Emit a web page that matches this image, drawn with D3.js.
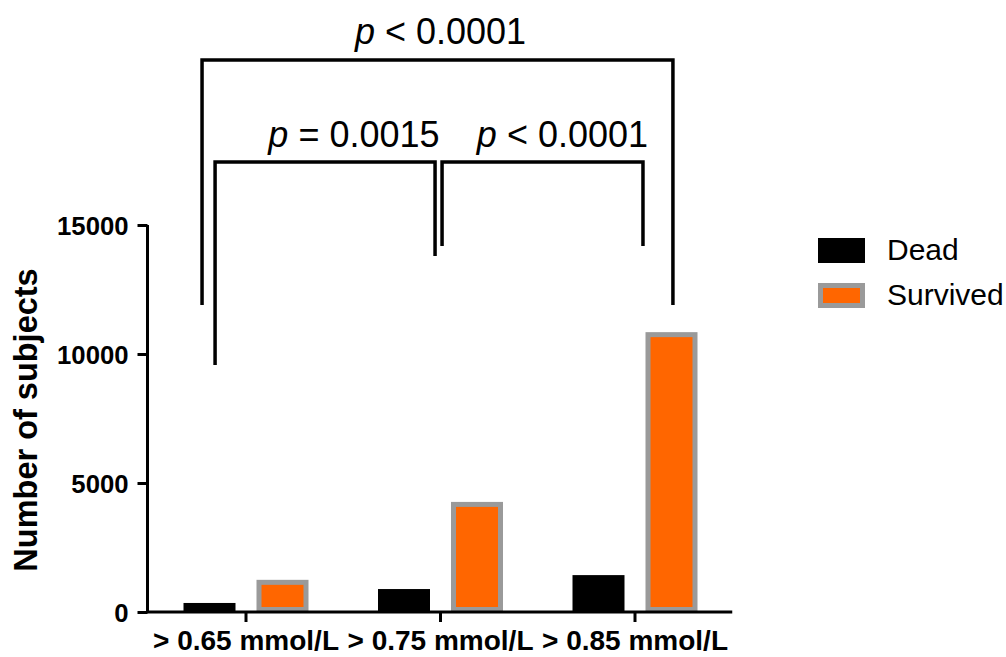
<!DOCTYPE html>
<html>
<head>
<meta charset="utf-8">
<script src="https://cdn.jsdelivr.net/npm/d3@7"></script>
<style>
  html, body { margin: 0; padding: 0; background: #fff; }
  svg { display: block; font-family: Arial, "Liberation Sans", Helvetica, sans-serif; }
</style>
</head>
<body>
<svg id="chart" width="1006" height="657"></svg>
<script>
// ---- data ----
const categories = ["> 0.65 mmol/L", "> 0.75 mmol/L", "> 0.85 mmol/L"];
const seriesNames = ["Dead", "Survived"];
const deadValues = [350, 890, 1430];
const survivedValues = [1150, 4170, 10750];
const yTicks = [0, 5000, 10000, 15000];
const yLabel = "Number of subjects";
// significance brackets: groups compared, offsets (fraction of group step), bar level and leg ends (data units)
const bracketLabels = ["p < 0.0001", "p = 0.0015", "p < 0.0001"];
const bracketFrom = [0, 0, 1];
const bracketTo = [2, 1, 2];
const bracketFromOffset = [-0.226, -0.159, 0.008];
const bracketToOffset = [0.195, -0.028, 0.041];
const bracketLevel = [21400, 17440, 17440];
const bracketLeftEnd = [11900, 9570, 14190];
const bracketRightEnd = [11900, 13800, 14190];
const bracketLabelPos = [1.0, 0.555, 1.627]; // label centre, in group units from first group

// ---- layout ----
const svg = d3.select("#chart");
const colors = { Dead: "#000000", Survived: "#ff6600" };
const survivedStroke = "#9a9a9a";

const x0 = d3.scaleBand().domain(categories).range([148.75, 732.25]).paddingInner(0).paddingOuter(0);
const x1 = d3.scaleBand().domain(seriesNames).range([-62.5, 62.5]).paddingInner(0.2877).paddingOuter(0);
const y = d3.scaleLinear().domain([0, 15000]).range([612, 225]);

const step = x0.step();
const cx = c => x0(c) + x0.bandwidth() / 2;

// bars
const rows = categories.map((c, i) => ({ cat: c, Dead: deadValues[i], Survived: survivedValues[i] }));
const g = svg.append("g");
const groups = g.selectAll("g.grp").data(rows).join("g").attr("class", "grp")
  .attr("transform", d => `translate(${cx(d.cat)},0)`);

groups.append("rect")
  .attr("x", x1("Dead"))
  .attr("width", x1.bandwidth())
  .attr("y", d => y(d.Dead))
  .attr("height", d => y(0) - y(d.Dead))
  .attr("fill", colors.Dead);

const sw = 5;
groups.append("rect")
  .attr("x", x1("Survived") + sw / 2)
  .attr("width", x1.bandwidth() - sw)
  .attr("y", d => y(d.Survived))
  .attr("height", d => y(0) - y(d.Survived) - sw / 2)
  .attr("fill", colors.Survived)
  .attr("stroke", survivedStroke)
  .attr("stroke-width", sw);

// y axis
const yAxis = svg.append("g")
  .attr("transform", "translate(147.5,0)")
  .call(d3.axisLeft(y).tickValues(yTicks).tickSize(10).tickPadding(9).tickFormat(d3.format("d")));
yAxis.select(".domain").attr("d", `M0,${y(15000)}V${y(0)}`).attr("stroke", "#000").attr("stroke-width", 3);
yAxis.selectAll(".tick line").attr("stroke", "#000").attr("stroke-width", 3);
yAxis.selectAll(".tick text").attr("fill", "#000").style("font-size", "25.7px").style("font-weight", "bold")
  .attr("dy", "0.36em");

// x axis
const xAxis = svg.append("g")
  .attr("transform", `translate(0,${y(0)})`)
  .call(d3.axisBottom(x0).tickSize(10).tickPadding(8));
xAxis.select(".domain").attr("d", `M146,0H${x0.range()[1]}`).attr("stroke", "#000").attr("stroke-width", 3);
xAxis.selectAll(".tick line").attr("stroke", "#000").attr("stroke-width", 3);
xAxis.selectAll(".tick text").attr("fill", "#000").style("font-size", "28px").style("font-weight", "bold")
  .attr("dy", "20px");

// y label
svg.append("text")
  .attr("transform", `translate(37,420) rotate(-90)`)
  .attr("text-anchor", "middle")
  .style("font-size", "32.5px").style("font-weight", "bold")
  .text(yLabel);

// brackets
const brackets = bracketLabels.map((lab, i) => ({
  label: lab,
  xl: cx(categories[bracketFrom[i]]) + bracketFromOffset[i] * step,
  xr: cx(categories[bracketTo[i]]) + bracketToOffset[i] * step,
  xt: cx(categories[0]) + bracketLabelPos[i] * step,
  yb: y(bracketLevel[i]),
  yl: y(bracketLeftEnd[i]),
  yr: y(bracketRightEnd[i])
}));
const bg = svg.append("g");
bg.selectAll("path").data(brackets).join("path")
  .attr("d", d => `M${d.xl},${d.yl}V${d.yb}H${d.xr}V${d.yr}`)
  .attr("fill", "none").attr("stroke", "#000").attr("stroke-width", 3.5);
const bt = bg.selectAll("text").data(brackets).join("text")
  .attr("x", d => d.xt)
  .attr("y", d => d.yb - 15.5)
  .attr("text-anchor", "middle")
  .style("font-size", "36px");
bt.each(function(d) {
  const t = d3.select(this);
  const parts = d.label.split(" ");
  t.append("tspan").style("font-style", "italic").text(parts[0]);
  t.append("tspan").text(" " + parts.slice(1).join(" "));
});

// legend
const legend = svg.append("g").attr("transform", "translate(818,238)");
const li = legend.selectAll("g").data(seriesNames).join("g")
  .attr("transform", (d, i) => `translate(0,${i * 45})`);
li.append("rect")
  .attr("x", d => d === "Survived" ? 2.5 : 0)
  .attr("y", d => d === "Survived" ? 2.5 : 0)
  .attr("width", d => d === "Survived" ? 42 : 47)
  .attr("height", d => d === "Survived" ? 20 : 25)
  .attr("fill", d => colors[d])
  .attr("stroke", d => d === "Survived" ? survivedStroke : "none")
  .attr("stroke-width", d => d === "Survived" ? 5 : 0);
li.append("text")
  .attr("x", 69).attr("y", 22)
  .style("font-size", "30px")
  .text(d => d);
</script>
</body>
</html>
